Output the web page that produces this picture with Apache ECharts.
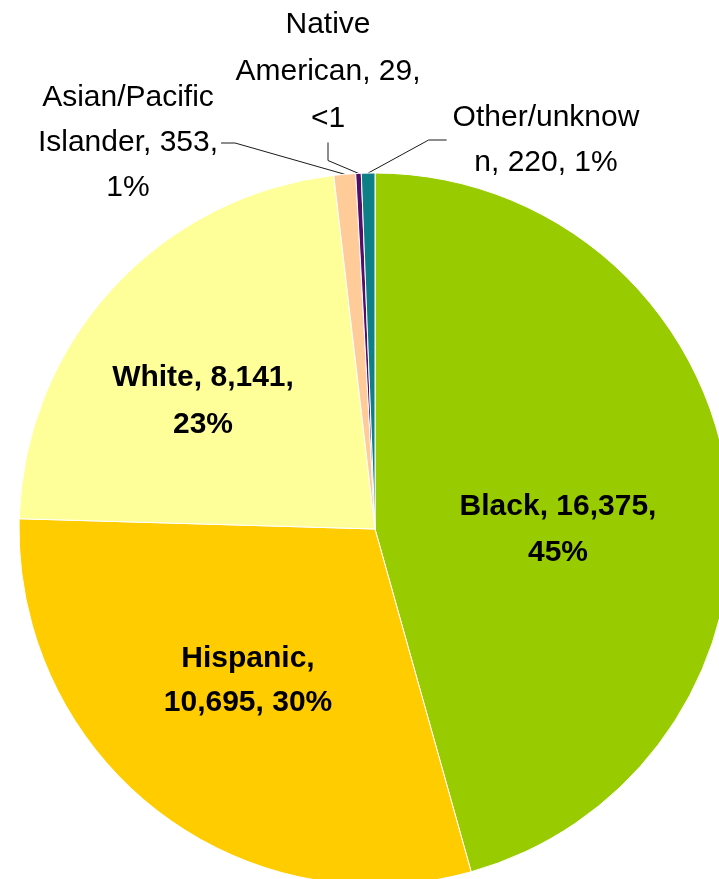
<!DOCTYPE html>
<html>
<head>
<meta charset="utf-8">
<script src="https://cdn.jsdelivr.net/npm/echarts@6/dist/echarts.min.js"></script>
<style>
  html, body { margin: 0; padding: 0; background: #fff; }
  #chart { width: 719px; height: 879px; }
</style>
</head>
<body>
<div id="chart"></div>
<script>
// ---- data ----
const categories = ['Black', 'Hispanic', 'White', 'Asian/Pacific\nIslander', 'Native\nAmerican', 'Other/unknow\nn'];
const values = [16375, 10695, 8141, 353, 29, 220];
const pctLabels = ['45%', '30%', '23%', '1%', '<1', '1%'];
const breakAfter = [2, 1, 2, 2, 2, 0];

// ---- styling ----
const colors = ['#99CC00', '#FFCC00', '#FFFF99', '#FFCC99', '#520E68', '#0E7F86'];
const labelCenters = [[558, 530], [248, 681], [203, 401], [128, 143], [328, 72], [546, 140]];
const lineHeights = [46, 44, 47, 45, 47, 45];
const boldLabel = [true, true, true, false, false, false];
const leaderLen2 = [0, 0, 0, 14, 18, 18];
const labelPad = [[0, 0], [0, 0], [0, 0], [0, 3], [0, 0], [0, 6]];

function labelText(i) {
  const parts = [categories[i], values[i].toLocaleString('en-US'), pctLabels[i]];
  let t = parts[0];
  for (let k = 1; k < parts.length; k++) {
    t += (breakAfter[i] === k ? ',\n' : ', ') + parts[k];
  }
  return t;
}

const data = values.map((v, i) => ({
  name: categories[i],
  value: v,
  itemStyle: { color: colors[i] },
  label: {
    fontWeight: boldLabel[i] ? 'bold' : 'normal',
    lineHeight: lineHeights[i],
    padding: labelPad[i]
  },
  labelLine: {
    show: !boldLabel[i],
    length: 10,
    length2: leaderLen2[i],
    lineStyle: { color: '#1a1a1a', width: 1 }
  }
}));

const chart = echarts.init(document.getElementById('chart'), null, { renderer: 'canvas' });
chart.setOption({
  animation: false,
  backgroundColor: '#ffffff',
  series: [{
    type: 'pie',
    center: [375, 529],
    radius: 356,
    startAngle: 90,
    clockwise: true,
    minAngle: 0.9,
    avoidLabelOverlap: false,
    silent: true,
    itemStyle: { borderColor: '#ffffff', borderWidth: 1 },
    label: {
      show: true,
      position: 'outside',
      overflow: 'none',
      color: '#000000',
      fontFamily: '"Liberation Sans", Arial, sans-serif',
      fontSize: 30,
      align: 'center',
      formatter: p => labelText(p.dataIndex)
    },
    labelLine: { show: true, smooth: false, minTurnAngle: 90 },
    labelLayout: function (params) {
      const c = labelCenters[params.dataIndex];
      return { x: c[0], y: c[1], align: 'center', verticalAlign: 'middle' };
    },
    emphasis: { disabled: true },
    data: data
  }]
});
</script>
</body>
</html>
